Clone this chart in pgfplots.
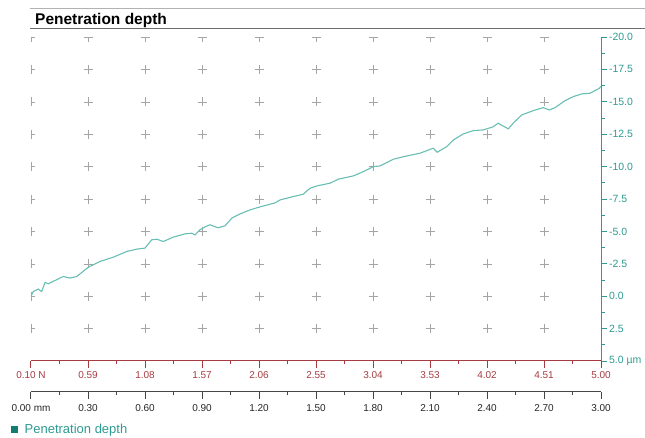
\documentclass[border=0pt]{standalone}
\usepackage{pgfplots}
\pgfplotsset{compat=1.18}
\usepackage{fontspec}
\setmainfont{Liberation Sans}
\definecolor{tealax}{RGB}{45,155,145}
\definecolor{tealln}{RGB}{105,190,180}
\definecolor{tealsq}{RGB}{20,125,115}
\definecolor{redax}{RGB}{165,60,65}
\definecolor{blkax}{RGB}{70,70,70}
\definecolor{gridc}{RGB}{165,165,165}
\begin{document}
\begin{tikzpicture}
\useasboundingbox (-31pt,-77pt) rectangle (614pt,361pt);
\draw[line width=0.7pt, gray!60] (-1pt,353pt) -- (614pt,353pt);
\draw[line width=1pt, gray!85!black] (-1pt,332pt) -- (614pt,332pt);
\node[anchor=base west, font=\fontsize{15.5}{17}\selectfont\bfseries, inner sep=0pt] at (4pt,336.5pt) {Penetration depth};

\begin{axis}[
 at={(0pt,0pt)}, anchor=south west,
 scale only axis, width=570pt, height=324pt,
 xmin=0, xmax=3, ymin=-20, ymax=5, y dir=reverse,
 clip mode=global, clip marker paths=true,
 axis x line=none,
 axis y line*=right,
 y axis line style={draw=tealax, line width=1pt, -},
 ytick={-20,-17.5,-15,-12.5,-10,-7.5,-5,-2.5,0,2.5,5},
 yticklabels={-20.0,-17.5,-15.0,-12.5,-10.0,-7.5,-5.0,-2.5,0.0,2.5,5.0 µm},
 minor y tick num=1,
 tick align=outside,
 major tick length=6pt, minor tick length=3.5pt,
 y tick style={draw=tealax, line width=1pt},
 yticklabel style={text=tealax, font=\fontsize{10.5}{12}\selectfont, anchor=west, xshift=-1.5pt},
 legend style={draw=none, fill=none, at={(-0.036,-0.2114)}, anchor=west, font=\fontsize{13}{15}\selectfont, text=tealax, inner sep=0pt},
 legend cell align=left,
 legend image code/.code={\path[draw=none, fill=none] (0pt,0pt) rectangle (12pt,0pt); \fill[tealsq, draw=none] (0pt,-3.8pt) rectangle (7.5pt,3.8pt);},
]
\addplot[only marks, mark=+, mark size=4.5pt, draw=gridc, line width=0.6pt, forget plot] table {
x y
0 -20
0.3 -20
0.6 -20
0.9 -20
1.2 -20
1.5 -20
1.8 -20
2.1 -20
2.4 -20
2.7 -20
0 -17.5
0.3 -17.5
0.6 -17.5
0.9 -17.5
1.2 -17.5
1.5 -17.5
1.8 -17.5
2.1 -17.5
2.4 -17.5
2.7 -17.5
0 -15
0.3 -15
0.6 -15
0.9 -15
1.2 -15
1.5 -15
1.8 -15
2.1 -15
2.4 -15
2.7 -15
0 -12.5
0.3 -12.5
0.6 -12.5
0.9 -12.5
1.2 -12.5
1.5 -12.5
1.8 -12.5
2.1 -12.5
2.4 -12.5
2.7 -12.5
0 -10
0.3 -10
0.6 -10
0.9 -10
1.2 -10
1.5 -10
1.8 -10
2.1 -10
2.4 -10
2.7 -10
0 -7.5
0.3 -7.5
0.6 -7.5
0.9 -7.5
1.2 -7.5
1.5 -7.5
1.8 -7.5
2.1 -7.5
2.4 -7.5
2.7 -7.5
0 -5
0.3 -5
0.6 -5
0.9 -5
1.2 -5
1.5 -5
1.8 -5
2.1 -5
2.4 -5
2.7 -5
0 -2.5
0.3 -2.5
0.6 -2.5
0.9 -2.5
1.2 -2.5
1.5 -2.5
1.8 -2.5
2.1 -2.5
2.4 -2.5
2.7 -2.5
0 0
0.3 0
0.6 0
0.9 0
1.2 0
1.5 0
1.8 0
2.1 0
2.4 0
2.7 0
0 2.5
0.3 2.5
0.6 2.5
0.9 2.5
1.2 2.5
1.5 2.5
1.8 2.5
2.1 2.5
2.4 2.5
2.7 2.5
};
\addplot[draw=tealln, line width=1.1pt] table {
x y
0.000 0.00
0.012 -0.36
0.038 -0.55
0.056 -0.36
0.074 -1.06
0.091 -0.96
0.126 -1.21
0.170 -1.52
0.205 -1.40
0.241 -1.52
0.302 -2.24
0.363 -2.68
0.433 -3.01
0.504 -3.45
0.556 -3.63
0.600 -3.71
0.635 -4.35
0.662 -4.40
0.696 -4.22
0.749 -4.56
0.811 -4.81
0.846 -4.86
0.863 -4.73
0.889 -5.12
0.916 -5.35
0.942 -5.51
0.984 -5.28
1.021 -5.43
1.058 -6.04
1.100 -6.35
1.153 -6.66
1.205 -6.89
1.284 -7.20
1.311 -7.43
1.381 -7.69
1.433 -7.87
1.468 -8.33
1.504 -8.51
1.574 -8.72
1.617 -9.03
1.696 -9.28
1.749 -9.61
1.802 -10.00
1.837 -10.05
1.907 -10.57
1.977 -10.82
2.047 -11.03
2.117 -11.42
2.138 -11.11
2.188 -11.54
2.223 -12.06
2.275 -12.52
2.328 -12.78
2.381 -12.83
2.433 -13.08
2.459 -13.35
2.512 -12.91
2.538 -13.35
2.583 -13.99
2.644 -14.32
2.696 -14.55
2.728 -14.37
2.758 -14.55
2.811 -15.09
2.854 -15.40
2.899 -15.61
2.942 -15.66
2.991 -16.04
3.000 -16.20
};
\addlegendentry{Penetration depth}
\end{axis}

\begin{axis}[
 at={(0pt,0pt)}, anchor=south west,
 scale only axis, width=570pt, height=10pt,
 xmin=0.1, xmax=5.0, ymin=0, ymax=1,
 axis x line*=bottom, axis y line=none,
 x axis line style={draw=redax, line width=1pt, -},
 xtick={0.10,0.59,1.08,1.57,2.06,2.55,3.04,3.53,4.02,4.51,5.00},
 xticklabels={0.10 N,0.59,1.08,1.57,2.06,2.55,3.04,3.53,4.02,4.51,5.00},
 minor x tick num=1,
 tick align=outside,
 major tick length=7pt, minor tick length=3.5pt,
 x tick style={draw=redax, line width=1pt},
 xticklabel style={text=redax, font=\fontsize{10}{12}\selectfont},
]
\addplot[draw=none] coordinates {(0.1,0) (5,0)};
\end{axis}

\begin{axis}[
 at={(0pt,-31pt)}, anchor=south west,
 scale only axis, width=570pt, height=10pt,
 xmin=0, xmax=3, ymin=0, ymax=1,
 axis x line*=bottom, axis y line=none,
 x axis line style={draw=blkax, line width=1pt, -},
 xtick={0,0.3,0.6,0.9,1.2,1.5,1.8,2.1,2.4,2.7,3.0},
 xticklabels={0.00 mm,0.30,0.60,0.90,1.20,1.50,1.80,2.10,2.40,2.70,3.00},
 minor x tick num=1,
 tick align=outside,
 major tick length=7pt, minor tick length=3.5pt,
 x tick style={draw=blkax, line width=1pt},
 xticklabel style={text=black!85, font=\fontsize{10}{12}\selectfont, yshift=-2pt},
]
\addplot[draw=none] coordinates {(0,0) (3,0)};
\end{axis}
\end{tikzpicture}
\end{document}
